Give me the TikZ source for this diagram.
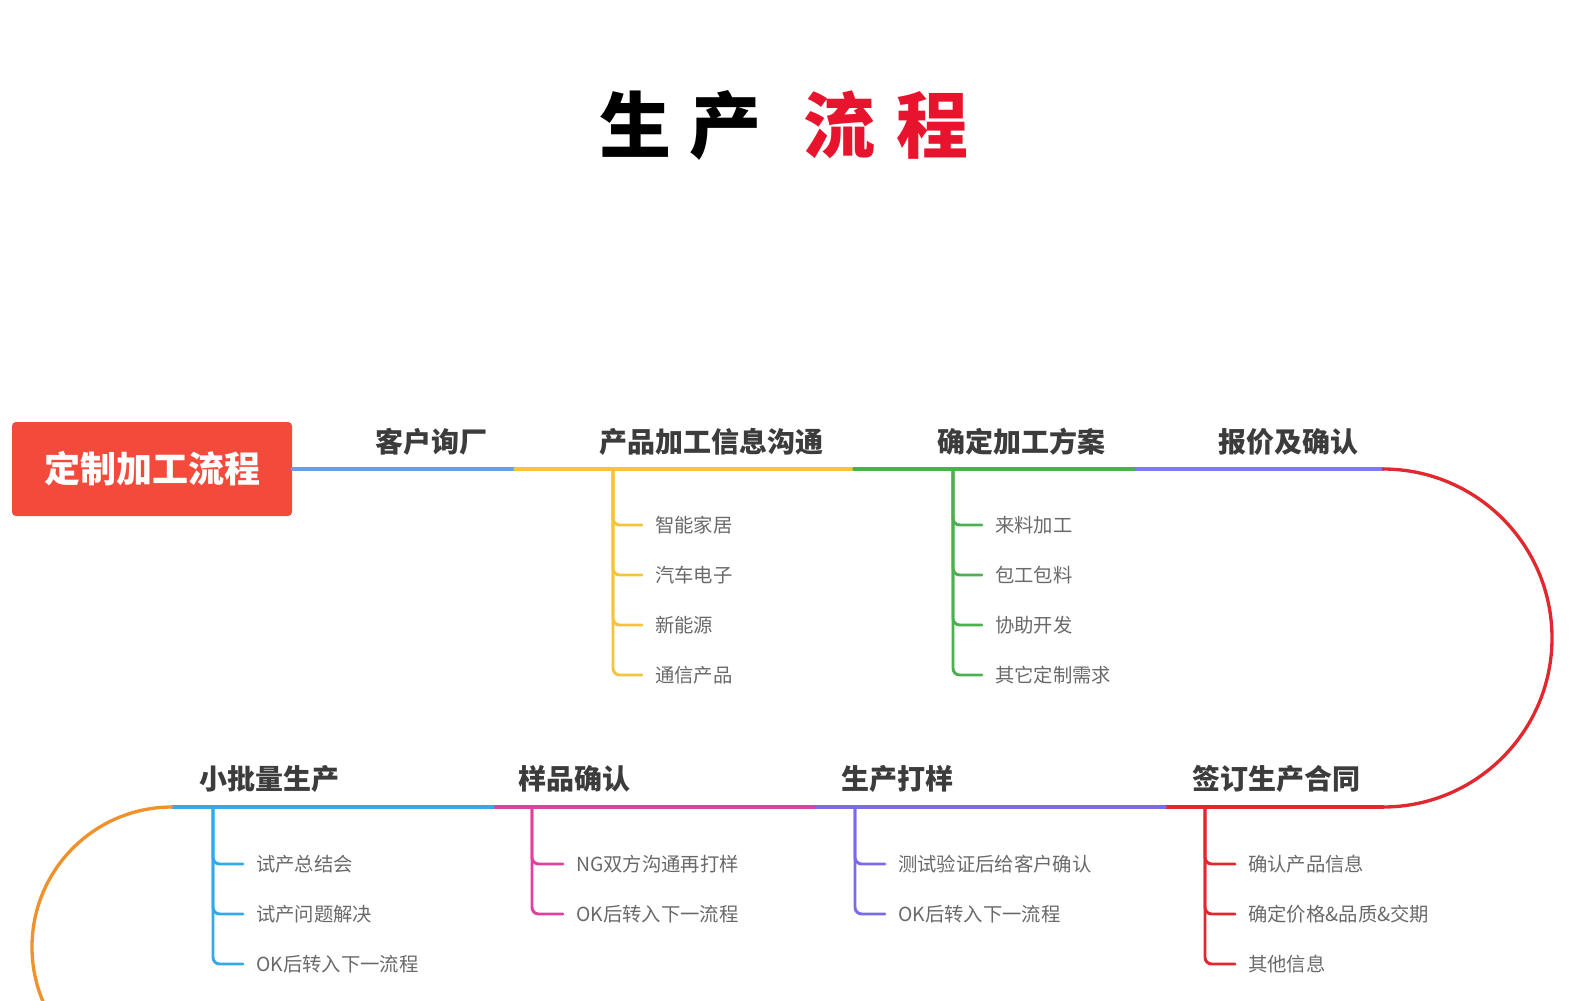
\documentclass[tikz,border=0pt]{standalone}
\usepackage{fontspec}
\setmainfont{Noto Sans CJK SC}
\definecolor{rootred}{RGB}{244,74,60}
\definecolor{titlered}{RGB}{232,20,45}
\definecolor{labelgray}{RGB}{60,60,60}
\definecolor{leafgray}{RGB}{105,105,105}
\definecolor{cblue}{RGB}{106,159,232}
\definecolor{cyellow}{RGB}{245,195,60}
\definecolor{cgreen}{RGB}{76,175,80}
\definecolor{cviolet}{RGB}{124,124,240}
\definecolor{cred}{RGB}{224,40,46}
\definecolor{csky}{RGB}{53,168,232}
\definecolor{cpink}{RGB}{224,64,160}
\definecolor{cpurple}{RGB}{123,107,232}
\definecolor{corange}{RGB}{240,146,43}
\begin{document}
\begin{tikzpicture}[x=0.75pt,y=-0.75pt,
  mainline/.style={line width=2.5pt,line cap=round},
  subline/.style={line width=2.2pt,rounded corners=5pt,line cap=round},
  lbl/.style={font=\bfseries\fontsize{21}{25}\selectfont,text=labelgray,inner sep=0pt},
  leaf/.style={font=\fontsize{14.5}{17}\selectfont,text=leafgray,anchor=west,inner xsep=9.75pt,inner ysep=0pt},
  rootbox/.style={fill=rootred,rounded corners=3pt,minimum width=210pt,minimum height=70.5pt,text=white,font=\bfseries\fontsize{27}{32}\selectfont,inner sep=0pt}]
\useasboundingbox (0,0) rectangle (1580,1000);
\clip (0,0) rectangle (1580,1000);

% title
\node[font=\bfseries\fontsize{54}{60}\selectfont,inner sep=0pt] (title) at (784,125)
  {生\hspace{14pt}产\hspace{31pt}\textcolor{titlered}{流\hspace{16pt}程}};

% root
\node[rootbox] (root) at (152,469) {定制加工流程};

% top line
\coordinate (t1) at (515,469);
\coordinate (t2) at (854,469);
\coordinate (t3) at (1136,469);
\coordinate (t4) at (1383,469);
\draw[mainline,cblue] (root.east) -- (t1);
\draw[mainline,cyellow] (t1) -- (t2);
\draw[mainline,cgreen] (t2) -- (t3);
\draw[mainline,cviolet] (t3) -- (t4);

% bottom line
\coordinate (b0) at (172,807);
\coordinate (b1) at (493,807);
\coordinate (b2) at (814,807);
\coordinate (b3) at (1165,807);
\coordinate (b4) at (1383,807);
\coordinate (rr) at (1552,638);
\coordinate (ol) at (32,947);
\coordinate (oe) at (172,1087);
\draw[mainline,cred] (t4) .. controls (1476.3,469) and (1552,544.7) .. (rr)
  .. controls (1552,731.3) and (1476.3,807) .. (b4);
\draw[mainline,cred] (b4) -- (b3);
\draw[mainline,cpurple] (b3) -- (b2);
\draw[mainline,cpink] (b2) -- (b1);
\draw[mainline,csky] (b1) -- (b0);
\draw[mainline,corange] (b0) .. controls (94.7,807) and (32,869.7) .. (ol)
  .. controls (32,1024.3) and (94.7,1087) .. (oe);

% labels
\node[lbl] (l1) at (431,442) {客户询厂};
\node[lbl] (l2) at (711,442) {产品加工信息沟通};
\node[lbl] (l3) at (1021,442) {确定加工方案};
\node[lbl] (l4) at (1288,442) {报价及确认};
\node[lbl] (l5) at (269,779) {小批量生产};
\node[lbl] (l6) at (574,779) {样品确认};
\node[lbl] (l7) at (897,779) {生产打样};
\node[lbl] (l8) at (1276,779) {签订生产合同};

% yellow branch
\coordinate (ya) at (613,469);
\node[leaf] (y1) at (642,525) {智能家居};
\node[leaf] (y2) at (642,575) {汽车电子};
\node[leaf] (y3) at (642,625) {新能源};
\node[leaf] (y4) at (642,675) {通信产品};
\foreach \n in {y1,y2,y3,y4} \draw[subline,cyellow] (ya) |- (\n.west);

% green branch
\coordinate (ga) at (953,469);
\node[leaf] (g1) at (982,525) {来料加工};
\node[leaf] (g2) at (982,575) {包工包料};
\node[leaf] (g3) at (982,625) {协助开发};
\node[leaf] (g4) at (982,675) {其它定制需求};
\foreach \n in {g1,g2,g3,g4} \draw[subline,cgreen] (ga) |- (\n.west);

% sky branch
\coordinate (sa) at (213,807);
\node[leaf] (s1) at (243,864) {试产总结会};
\node[leaf] (s2) at (243,914) {试产问题解决};
\node[leaf] (s3) at (243,964) {OK后转入下一流程};
\foreach \n in {s1,s2,s3} \draw[subline,csky] (sa) |- (\n.west);

% pink branch
\coordinate (pa) at (532,807);
\node[leaf] (p1) at (563,864) {NG双方沟通再打样};
\node[leaf] (p2) at (563,914) {OK后转入下一流程};
\foreach \n in {p1,p2} \draw[subline,cpink] (pa) |- (\n.west);

% purple branch
\coordinate (ua) at (855,807);
\node[leaf] (u1) at (885,864) {测试验证后给客户确认};
\node[leaf] (u2) at (885,914) {OK后转入下一流程};
\foreach \n in {u1,u2} \draw[subline,cpurple] (ua) |- (\n.west);

% red branch
\coordinate (ra) at (1205,807);
\node[leaf] (r1) at (1235,864) {确认产品信息};
\node[leaf] (r2) at (1235,914) {确定价格\&品质\&交期};
\node[leaf] (r3) at (1235,964) {其他信息};
\foreach \n in {r1,r2,r3} \draw[subline,cred] (ra) |- (\n.west);
\end{tikzpicture}
\end{document}
